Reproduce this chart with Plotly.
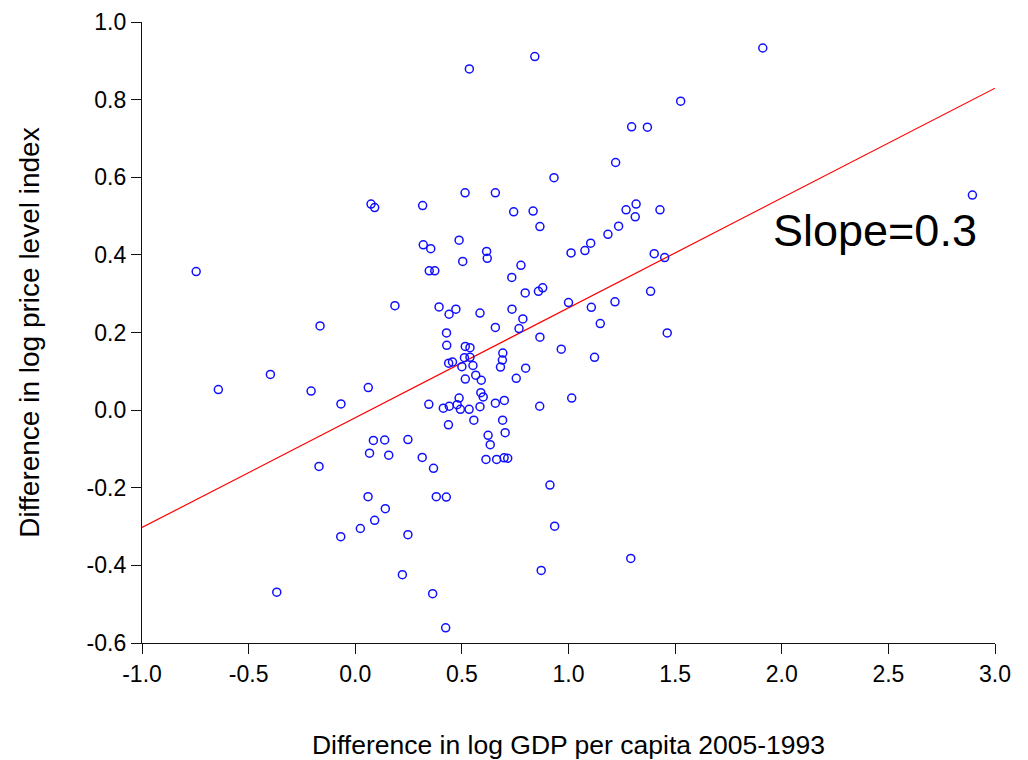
import plotly.graph_objects as go

gdp_diff = [
    0.535, 0.842, 1.911, 1.526, 1.296, 1.370, 1.221, 0.932, 0.515, 0.657,
    0.074, 0.091, 0.316, 0.743, 0.834, 1.270, 1.317, 1.313, 1.429, 0.866,
    1.235, 1.185, 0.319, 0.354, 0.487, 0.616, 0.619, 0.504, 1.077, 1.104,
    1.012, 1.402, 1.451, 0.347, 0.373, 0.777, 0.734, -0.746, 0.797, 0.859,
    0.879, 1.385, 2.894, 0.186, 0.393, 0.472, 0.440, 0.585, 0.735, 1.000,
    1.107, 1.218, 0.786, 1.149, -0.165, 0.657, 0.768, 1.463, 0.428, 0.866,
    0.429, 0.516, 0.538, 0.512, 0.538, 0.692, 0.690, 0.681, 0.966, 1.122,
    0.438, 0.456, 0.500, 0.552, 0.799, 0.516, 0.565, 0.591, 0.755, -0.398,
    -0.642, -0.207, 0.061, -0.067, 0.345, 0.589, 0.600, 0.487, 0.478, 0.441,
    0.413, 0.493, 0.534, 0.585, 0.657, 0.699, 0.865, 1.015, 0.437, 0.556,
    0.691, 0.703, 0.247, 0.085, 0.138, 0.623, 0.633, 0.314, 0.367, 0.067,
    0.157, -0.170, 0.613, 0.663, 0.698, 0.715, 0.913, 0.060, 0.380, 0.427,
    0.141, 0.091, 0.024, -0.068, 0.247, 0.935, 1.292, 0.872, 0.221, -0.368,
    0.363, 0.424,
]
price_diff = [
    0.879, 0.911, 0.933, 0.796, 0.730, 0.729, 0.638, 0.599, 0.560, 0.560,
    0.531, 0.522, 0.527, 0.511, 0.513, 0.516, 0.531, 0.498, 0.516, 0.473,
    0.474, 0.453, 0.426, 0.416, 0.438, 0.409, 0.391, 0.383, 0.411, 0.430,
    0.405, 0.403, 0.393, 0.359, 0.359, 0.373, 0.342, 0.357, 0.302, 0.306,
    0.315, 0.306, 0.554, 0.269, 0.266, 0.260, 0.247, 0.250, 0.260, 0.277,
    0.265, 0.279, 0.235, 0.223, 0.217, 0.213, 0.210, 0.199, 0.199, 0.188,
    0.167, 0.164, 0.161, 0.135, 0.136, 0.147, 0.129, 0.111, 0.157, 0.136,
    0.121, 0.124, 0.112, 0.115, 0.108, 0.080, 0.090, 0.077, 0.082, 0.092,
    0.053, 0.049, 0.058, 0.016, 0.015, 0.045, 0.034, 0.031, 0.014, 0.010,
    0.005, 0.002, 0.002, 0.009, 0.018, 0.025, 0.010, 0.031, -0.038, -0.026,
    -0.026, -0.058, -0.076, -0.078, -0.077, -0.065, -0.089, -0.122, -0.150, -0.111,
    -0.116, -0.145, -0.127, -0.127, -0.123, -0.124, -0.193, -0.223, -0.223, -0.224,
    -0.254, -0.284, -0.305, -0.326, -0.321, -0.299, -0.382, -0.413, -0.424, -0.469,
    -0.473, -0.561,
]

fit_x = [-1.0, 3.0]
fit_slope = 0.283
fit_intercept = -0.0195
fit_y = [fit_intercept + fit_slope * v for v in fit_x]

x_tickvals = [-1.0, -0.5, 0.0, 0.5, 1.0, 1.5, 2.0, 2.5, 3.0]
x_ticktext = ["-1.0", "-0.5", "0.0", "0.5", "1.0", "1.5", "2.0", "2.5", "3.0"]
y_tickvals = [-0.6, -0.4, -0.2, 0.0, 0.2, 0.4, 0.6, 0.8, 1.0]
y_ticktext = ["-0.6", "-0.4", "-0.2", "0.0", "0.2", "0.4", "0.6", "0.8", "1.0"]

x_title = "Difference in log GDP per capita 2005-1993"
y_title = "Difference in log price level index"
slope_label = "Slope=0.3"

FONT = "Liberation Sans, Arial, Helvetica, sans-serif"

fig = go.Figure()
fig.add_trace(go.Scatter(
    x=fit_x, y=fit_y, mode="lines",
    line=dict(color="#ff0000", width=1.2),
    hoverinfo="skip", showlegend=False,
))
fig.add_trace(go.Scatter(
    x=gdp_diff, y=price_diff, mode="markers",
    marker=dict(symbol="circle-open", size=8, color="#1010ff",
                line=dict(width=1.5, color="#1010ff")),
    showlegend=False,
))

fig.add_annotation(
    x=2.437, y=0.464, xref="x", yref="y",
    text=slope_label, showarrow=False,
    font=dict(family=FONT, size=45, color="black"),
)

axis_common = dict(
    showline=True, linecolor="#111111", linewidth=1.3,
    ticks="outside", ticklen=10, tickwidth=1, tickcolor="#111111",
    showgrid=False, zeroline=False, mirror=False, automargin=False,
    tickfont=dict(family=FONT, size=23, color="black"),
)

fig.update_layout(
    width=1028, height=760,
    margin=dict(l=142, r=33, t=22, b=117),
    paper_bgcolor="white", plot_bgcolor="white",
    font=dict(family=FONT, color="black"),
    xaxis=dict(
        range=[-1.0, 3.0], tickvals=x_tickvals, ticktext=x_ticktext,
        title=dict(text=x_title, font=dict(family=FONT, size=26.5), standoff=51),
        **axis_common,
    ),
    yaxis=dict(
        range=[-0.6, 1.0], tickvals=y_tickvals, ticktext=y_ticktext,
        title=dict(text=y_title, font=dict(family=FONT, size=28), standoff=38),
        **axis_common,
    ),
)

fig.write_html("out.html")
